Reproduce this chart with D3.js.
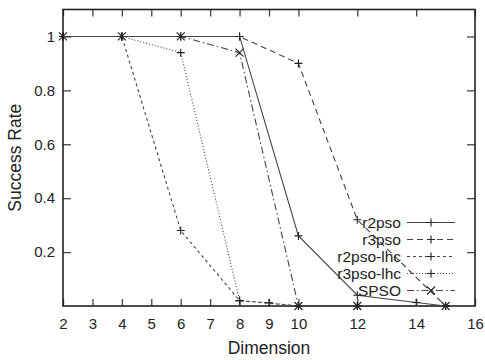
<!DOCTYPE html>
<html>
<head>
<meta charset="utf-8">
<script src="https://cdn.jsdelivr.net/npm/d3@7"></script>
<style>
  body { margin: 0; background: #fff; }
  svg { font-family: "Liberation Sans", Arial, sans-serif; }
</style>
</head>
<body>
<svg id="chart" width="485" height="360"></svg>
<script>
// series values
var names = ["r2pso", "r3pso", "r2pso-lhc", "r3pso-lhc", "SPSO"];
var r2psoX = [2, 4, 6, 8, 10, 12, 14, 15],
    r2psoY = [1, 1, 1, 1, 0.26, 0.04, 0.013, 0];
var r3psoX = [2, 4, 6, 8, 10, 12, 15],
    r3psoY = [1, 1, 1, 1, 0.9, 0.32, 0];
var r2psoLhcX = [2, 4, 6, 8, 10, 12, 15],
    r2psoLhcY = [1, 1, 0.28, 0.02, 0, 0, 0];
var r3psoLhcX = [2, 4, 6, 8, 9, 10, 12, 15],
    r3psoLhcY = [1, 1, 0.94, 0.02, 0.012, 0, 0, 0];
var spsoX = [2, 4, 6, 8, 10, 12, 15],
    spsoY = [1, 1, 1, 0.94, 0, 0, 0];

var xTicks = [2, 3, 4, 5, 6, 7, 8, 9, 10, 12, 14, 16];
var yTicks = [0.2, 0.4, 0.6, 0.8, 1];

var margin = { top: 9.5, right: 10, bottom: 54, left: 63 },
    width = 485 - margin.left - margin.right,
    height = 360 - margin.top - margin.bottom;

var svg = d3.select("#chart");
var g = svg.append("g")
    .attr("transform", "translate(" + margin.left + "," + margin.top + ")");

var x = d3.scaleLinear().domain([2, 16]).range([0, width]);
var y = d3.scaleLinear().domain([0, 1.1]).range([height, 0]);

function zip(xs, ys) { return xs.map(function(d, i) { return [d, ys[i]]; }); }

var series = [
  { name: names[0], pts: zip(r2psoX, r2psoY), dash: null, mark: "plus" },
  { name: names[1], pts: zip(r3psoX, r3psoY), dash: "6,4", mark: "plus" },
  { name: names[2], pts: zip(r2psoLhcX, r2psoLhcY), dash: "3,3", mark: "plus" },
  { name: names[3], pts: zip(r3psoLhcX, r3psoLhcY), dash: "1,2", mark: "plus" },
  { name: names[4], pts: zip(spsoX, spsoY), dash: "7,3,1.5,3", mark: "cross" }
];

var ink = "#444";

// axes with inward ticks
var xAxis = d3.axisBottom(x).tickValues(xTicks).tickSizeInner(-7).tickSizeOuter(0).tickPadding(12);
var xTop = d3.axisTop(x).tickValues(xTicks).tickSizeInner(-7).tickSizeOuter(0).tickFormat("");
var yAxis = d3.axisLeft(y).tickValues(yTicks).tickSizeInner(-8).tickSizeOuter(0).tickPadding(8).tickFormat(d3.format("~g"));
var yRight = d3.axisRight(y).tickValues(yTicks).tickSizeInner(-8).tickSizeOuter(0).tickFormat("");

function styleAxis(sel) {
  sel.select(".domain").remove();
  sel.selectAll(".tick line").attr("stroke", ink).attr("stroke-width", 1.3);
  sel.selectAll(".tick text").attr("fill", "#222").style("font-size", "15px");
}

g.append("g").attr("transform", "translate(0," + height + ")").call(xAxis).call(styleAxis);
g.append("g").call(xTop).call(styleAxis);
g.append("g").call(yAxis).call(styleAxis);
g.append("g").attr("transform", "translate(" + width + ",0)").call(yRight).call(styleAxis);

g.append("rect")
    .attr("width", width).attr("height", height)
    .attr("fill", "none").attr("stroke", "#222").attr("stroke-width", 1.6);

var line = d3.line().x(function(d) { return x(d[0]); }).y(function(d) { return y(d[1]); });

function marker(sel, type) {
  var s = 4;
  if (type === "plus") {
    sel.append("path").attr("d", "M" + -s + ",0H" + s + "M0," + -s + "V" + s);
  } else {
    sel.append("path").attr("d", "M" + -s + "," + -s + "L" + s + "," + s + "M" + -s + "," + s + "L" + s + "," + -s);
  }
  sel.selectAll("path").attr("stroke", "#222").attr("stroke-width", 1.1).attr("fill", "none");
}

series.forEach(function(s) {
  g.append("path")
      .datum(s.pts)
      .attr("d", line)
      .attr("fill", "none")
      .attr("stroke", ink)
      .attr("stroke-width", 1.1)
      .attr("stroke-dasharray", s.dash);
  g.selectAll(null)
      .data(s.pts)
      .join("g")
      .attr("transform", function(d) { return "translate(" + x(d[0]) + "," + y(d[1]) + ")"; })
      .each(function() { marker(d3.select(this), s.mark); });
});

// legend
var legend = g.append("g").attr("transform", "translate(" + (401 - margin.left) + "," + (222.5 - margin.top) + ")");
series.forEach(function(s, i) {
  var row = legend.append("g").attr("transform", "translate(0," + (i * 17) + ")");
  row.append("text")
      .attr("text-anchor", "end")
      .attr("dy", "0.35em")
      .attr("fill", "#222")
      .style("font-size", "15.5px")
      .text(s.name);
  row.append("line")
      .attr("x1", 6).attr("x2", 54)
      .attr("stroke", ink).attr("stroke-width", 1.1)
      .attr("stroke-dasharray", s.dash);
  var m = row.append("g").attr("transform", "translate(30,0)");
  marker(m, s.mark);
});

// axis titles
svg.append("text")
    .attr("x", margin.left + width / 2)
    .attr("y", 354)
    .attr("text-anchor", "middle")
    .attr("fill", "#222")
    .style("font-size", "17.5px")
    .text("Dimension");
svg.append("text")
    .attr("transform", "translate(21," + (margin.top + height / 2) + ") rotate(-90)")
    .attr("text-anchor", "middle")
    .attr("fill", "#222")
    .style("font-size", "17.5px")
    .text("Success Rate");
</script>
</body>
</html>
